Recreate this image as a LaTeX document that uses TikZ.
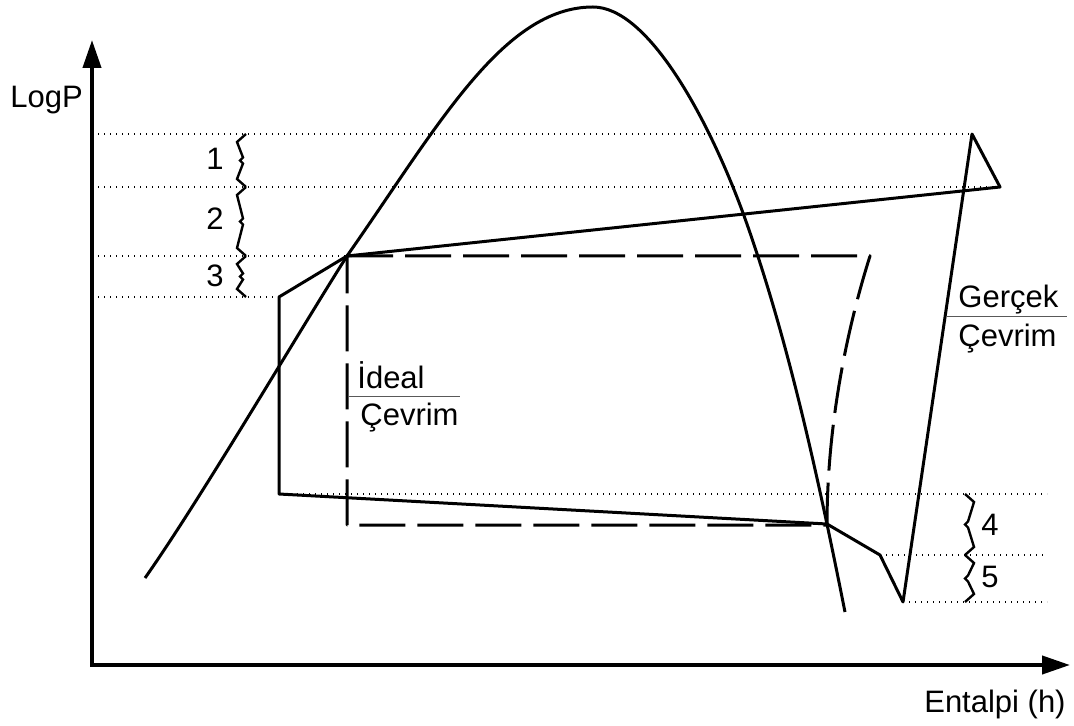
\documentclass[tikz,border=0pt]{standalone}
\usepackage{fontspec}
\setmainfont{Liberation Sans}
\usepackage{tikz}
\usetikzlibrary{arrows.meta}

% zigzag brace: end x, side (-1 left, +1 right), top y, bottom y
\newcommand{\zigbrace}[4]{%
  \pgfmathsetmacro{\brOut}{#1+9*#2}%
  \pgfmathsetmacro{\brMid}{#1+3*#2}%
  \pgfmathsetmacro{\brTip}{\brMid-3}%
  \pgfmathsetmacro{\brY}{(#3+#4)/2}%
  \draw[bracezig] (#1,#3) -- (\brOut,#3+8) -- (\brMid,\brY-3) -- (\brTip,\brY)
    -- (\brMid,\brY+3) -- (\brOut,#4-8) -- (#1,#4);}

\begin{document}
\begin{tikzpicture}[
    x=0.5pt, y=-0.5pt,
    >={Triangle[length=14pt, width=9pt]},
    font=\fontsize{15.5}{18}\selectfont,
    axisline/.style ={line width=2pt},
    cycleline/.style={line width=1.5pt, line join=round},
    idealline/.style={cycleline, dash pattern=on 23pt off 6pt},
    guideline/.style={line width=0.65pt, dash pattern=on 0.6pt off 2.4pt},
    bracezig/.style ={line width=1.2pt, line join=miter},
    divider/.style  ={line width=0.5pt, gray!70!black},
    lbl/.style      ={anchor=base west, inner sep=0pt},
]
\useasboundingbox (0,0) rectangle (1074,726);

% axes
\coordinate (origin) at (92,665);
\coordinate (ytip)   at (92,40);
\coordinate (xtip)   at (1070,665);
\draw[axisline, <->] (ytip) |- (xtip);
\node[lbl] (logp) at (10,108) {LogP};
\node[anchor=base east, inner sep=0pt] (enth) at (1066,712) {Entalpi (h)};

% cycle points
\coordinate (a) at (279,297);
\coordinate (b) at (347,256);
\coordinate (c) at (1000,187);
\coordinate (d) at (972,134);
\coordinate (e) at (903,602);
\coordinate (f) at (880,555);
\coordinate (g) at (827,524);
\coordinate (h) at (279,494);
\coordinate (i1) at (870,256);
\coordinate (i2) at (347,525);

% guide lines
\draw[guideline] (98,134) -- (d);
\draw[guideline] (98,187) -- (c);
\draw[guideline] (98,256) -- (b);
\draw[guideline] (98,297) -- (a);
\draw[guideline] (h) -- (1047,494);
\draw[guideline] (f) -- (1047,555);
\draw[guideline] (e) -- (1047,602);

% saturation dome
\coordinate (domeL) at (145,578);
\coordinate (domeT) at (593,7);
\coordinate (domeM) at (743,213);
\coordinate (domeR) at (845,612);
\draw[cycleline] (domeL) .. controls (200,500) and (300,330) .. (b)
  .. controls (438,126) and (503,7) .. (domeT)
  .. controls (648,7) and (708,118) .. (domeM)
  .. controls (789,340) and (820,487) .. (domeR);

% real cycle
\draw[cycleline] (a) -- (b) -- (c) -- (d) -- (e) -- (f) -- (g) -- (h) -- cycle;

% ideal cycle
\draw[idealline] (b) -- (i1) .. controls (845,335) and (827,430) .. (827,525) -- (i2) -- cycle;

% braces and labels
\zigbrace{246}{-1}{134}{187}
\zigbrace{246}{-1}{187}{256}
\zigbrace{246}{-1}{256}{297}
\zigbrace{965}{1}{494}{555}
\zigbrace{965}{1}{555}{602}
\node[lbl] (n1) at (206,170) {1};
\node[lbl] (n2) at (206,230) {2};
\node[lbl] (n3) at (206,287) {3};
\node[lbl] (n4) at (981,535) {4};
\node[lbl] (n5) at (981,587) {5};

% cycle names
\node[lbl] (ideal)  at (357,388) {İdeal};
\node[lbl] (ideal2) at (360,425) {Çevrim};
\draw[divider] (348,397) -- (460,397);
\node[lbl] (real)   at (958,308) {Gerçek};
\node[lbl] (real2)  at (958,347) {Çevrim};
\draw[divider] (947,317) -- (1067,317);

\end{tikzpicture}
\end{document}
